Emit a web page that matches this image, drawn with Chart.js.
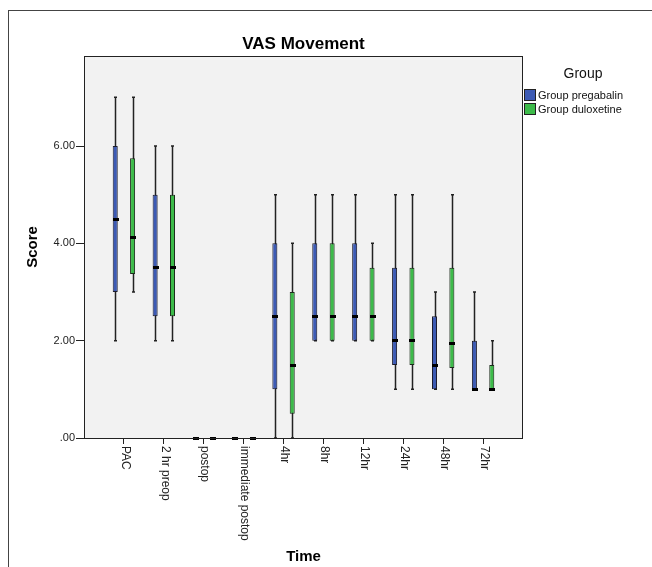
<!DOCTYPE html>
<html>
<head>
<meta charset="utf-8">
<script src="https://cdn.jsdelivr.net/npm/chart.js@4.4.1/dist/chart.umd.min.js"></script>
<style>
  html, body { margin: 0; padding: 0; background: #fff; }
  #wrap { width: 652px; height: 567px; position: relative; }
</style>
</head>
<body>
<div id="wrap"><canvas id="vasChart"></canvas></div>
<script>
// categories on the Time axis
const categories = ['PAC', '2 hr preop', 'postop', 'immediate postop', '4hr', '8hr', '12hr', '24hr', '48hr', '72hr'];
const yTicks = [0, 2, 4, 6];

// Group pregabalin (min, q1, median, q3, max)
const pregMin = [2, 2, 0, 0, 0, 2, 2, 1, 1, 1];
const pregQ1 = [3, 2.5, 0, 0, 1, 2, 2, 1.5, 1, 1];
const pregMed = [4.5, 3.5, 0, 0, 2.5, 2.5, 2.5, 2, 1.5, 1];
const pregQ3 = [6, 5, 0, 0, 4, 4, 4, 3.5, 2.5, 2];
const pregMax = [7, 6, 0, 0, 5, 5, 5, 5, 3, 3];

// Group duloxetine
const dulMin = [3, 2, 0, 0, 0, 2, 2, 1, 1, 1];
const dulQ1 = [3.37, 2.5, 0, 0, 0.5, 2, 2, 1.5, 1.44, 1];
const dulMed = [4.12, 3.5, 0, 0, 1.5, 2.5, 2.5, 2, 1.94, 1];
const dulQ3 = [5.75, 5, 0, 0, 3, 4, 3.5, 3.5, 3.5, 1.5];
const dulMax = [7, 6, 0, 0, 4, 5, 4, 5, 5, 2];

const FONT = '"Liberation Sans", Arial, sans-serif';

// blank category at each end gives the SPSS-like margin inside the frame
const labels = [''].concat(categories, ['']);
function pad(arr) { return [null].concat(arr, [null]); }
function boxes(q1, q3) { return pad(q1.map((v, i) => [v, q3[i]])); }

const stats = [
    { min: pad(pregMin), med: pad(pregMed), max: pad(pregMax) },
    { min: pad(dulMin), med: pad(dulMed), max: pad(dulMax) }
];

const boxPlotPlugin = {
    id: 'boxPlot',
    beforeDraw(chart) {
        const ctx = chart.ctx;
        const a = chart.chartArea;
        ctx.save();
        // outer frame
        ctx.strokeStyle = '#444';
        ctx.lineWidth = 1;
        ctx.strokeRect(8.5, 10.5, 800, 700);
        // plot background
        ctx.fillStyle = '#f2f2f2';
        ctx.fillRect(a.left, a.top, a.right - a.left, a.bottom - a.top);
        ctx.restore();
    },
    beforeDatasetsDraw(chart) {
        const ctx = chart.ctx;
        const y = chart.scales.y;
        ctx.save();
        ctx.strokeStyle = '#222';
        ctx.lineWidth = 1.5;
        chart.data.datasets.forEach((ds, di) => {
            const meta = chart.getDatasetMeta(di);
            meta.data.forEach((bar, i) => {
                const lo = stats[di].min[i], hi = stats[di].max[i];
                if (lo === null || lo === hi) return;
                const x = Math.round(bar.x) + 0.5;
                const y1 = y.getPixelForValue(lo), y2 = y.getPixelForValue(hi);
                ctx.beginPath();
                ctx.moveTo(x, y1); ctx.lineTo(x, y2);
                ctx.moveTo(x - 1.5, y1); ctx.lineTo(x + 1.5, y1);
                ctx.moveTo(x - 1.5, y2); ctx.lineTo(x + 1.5, y2);
                ctx.stroke();
            });
        });
        ctx.restore();
    },
    afterDatasetsDraw(chart) {
        const ctx = chart.ctx;
        const y = chart.scales.y;
        ctx.save();
        ctx.fillStyle = '#000';
        chart.data.datasets.forEach((ds, di) => {
            const meta = chart.getDatasetMeta(di);
            meta.data.forEach((bar, i) => {
                const m = stats[di].med[i];
                if (m === null) return;
                const py = y.getPixelForValue(m);
                ctx.fillRect(Math.round(bar.x - 2.5), Math.round(py - 1.5), 6, 3);
            });
        });
        ctx.restore();
    },
    afterDraw(chart) {
        const ctx = chart.ctx;
        const a = chart.chartArea;
        const x = chart.scales.x;
        ctx.save();
        // plot frame
        ctx.strokeStyle = '#222';
        ctx.lineWidth = 1;
        ctx.strokeRect(a.left + 0.5, a.top + 0.5, a.right - a.left - 1, a.bottom - a.top);

        // rotated category labels (reading top to bottom)
        ctx.fillStyle = '#222';
        ctx.font = '12px ' + FONT;
        ctx.textAlign = 'left';
        ctx.textBaseline = 'middle';
        labels.forEach((lab, i) => {
            if (!lab) return;
            const px = x.getPixelForTick(i);
            ctx.save();
            ctx.translate(px + 1, a.bottom + 8);
            ctx.rotate(Math.PI / 2);
            ctx.fillText(lab, 0, 0);
            ctx.restore();
        });

        // titles
        ctx.fillStyle = '#000';
        ctx.textAlign = 'center';
        ctx.font = 'bold 17px ' + FONT;
        ctx.fillText('VAS Movement', (a.left + a.right) / 2, 44);
        ctx.font = 'bold 15px ' + FONT;
        ctx.fillText('Time', (a.left + a.right) / 2, 557);
        ctx.save();
        ctx.translate(33, 247);
        ctx.rotate(-Math.PI / 2);
        ctx.fillText('Score', 0, 0);
        ctx.restore();

        // legend
        ctx.font = '14px ' + FONT;
        ctx.fillStyle = '#111';
        ctx.fillText('Group', 583, 74);
        ctx.font = '11px ' + FONT;
        ctx.textAlign = 'left';
        chart.data.datasets.forEach((ds, di) => {
            const ty = 89 + di * 14;
            ctx.fillStyle = ds.backgroundColor;
            ctx.fillRect(524, ty, 12, 12);
            ctx.strokeStyle = '#222';
            ctx.strokeRect(524.5, ty + 0.5, 11, 11);
            ctx.fillStyle = '#111';
            ctx.fillText(ds.label, 538, ty + 6.5);
        });
        ctx.restore();
    }
};

const chart = new Chart(document.getElementById('vasChart').getContext('2d'), {
    type: 'bar',
    data: {
        labels: labels,
        datasets: [{
            label: 'Group pregabalin',
            data: boxes(pregQ1, pregQ3),
            backgroundColor: '#3c5ab4',
            borderColor: '#1c1c2c',
            borderWidth: 1,
            borderSkipped: false
        }, {
            label: 'Group duloxetine',
            data: boxes(dulQ1, dulQ3),
            backgroundColor: '#3dbb4a',
            borderColor: '#1c2c1c',
            borderWidth: 1,
            borderSkipped: false
        }]
    },
    options: {
        responsive: true,
        maintainAspectRatio: false,
        animation: false,
        layout: { padding: { left: 20, top: 56, right: 129, bottom: 2 } },
        categoryPercentage: 0.87,
        barPercentage: 0.29,
        scales: {
            x: {
                offset: false,
                border: { display: false },
                grid: {
                    offset: false,
                    drawOnChartArea: false,
                    tickLength: 6,
                    color: (c) => (labels[c.index] ? '#222' : 'rgba(0,0,0,0)')
                },
                ticks: { display: false, autoSkip: false },
                afterFit: (s) => { s.height = 127; }
            },
            y: {
                min: 0,
                max: 7.85,
                border: { display: false },
                grid: { drawOnChartArea: false, tickLength: 8, color: '#222' },
                ticks: {
                    font: { size: 11, family: FONT },
                    color: '#222',
                    padding: 1,
                    callback: (v) => (v === 0 ? '.00' : v.toFixed(2))
                },
                afterBuildTicks: (s) => { s.ticks = yTicks.map((v) => ({ value: v })); },
                afterFit: (s) => { s.width = 64; }
            }
        },
        plugins: {
            legend: { display: false },
            title: { display: false },
            tooltip: { enabled: false }
        }
    },
    plugins: [boxPlotPlugin]
});
</script>
</body>
</html>
